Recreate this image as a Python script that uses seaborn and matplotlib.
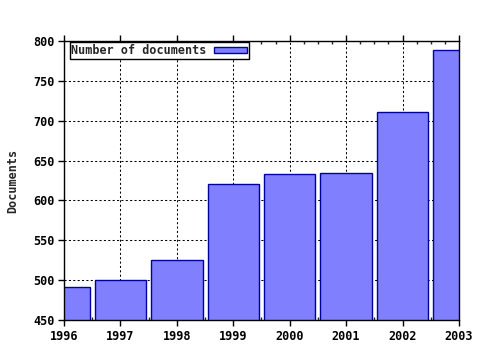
import matplotlib
matplotlib.use("Agg")
import matplotlib.pyplot as plt
import seaborn as sns
import pandas as pd
from matplotlib.ticker import MultipleLocator

years = ["1996", "1997", "1998", "1999", "2000", "2001", "2002", "2003"]
documents = [491, 500, 525, 620, 633, 634, 711, 789]
series_name = "Number of documents"

sns.set_theme(style="white")
plt.rcParams['font.family'] = ['DejaVu Sans Mono', 'DejaVu Sans']
plt.rcParams['font.weight'] = 'bold'

df = pd.DataFrame({"year": years, "docs": documents, "series": series_name})

fig = plt.figure(figsize=(4.8, 3.5), dpi=100)
ax = fig.add_axes([0.1333, 0.0857, 0.8229, 0.7972])

sns.barplot(data=df, x="year", y="docs", hue="series", palette=["#8080ff"],
            width=0.91, saturation=1, edgecolor="#0000a0", linewidth=1,
            ax=ax, zorder=2)

ax.set_xlim(0, 7)
ax.set_ylim(450, 800)
ax.yaxis.set_major_locator(MultipleLocator(50))
ax.xaxis.set_minor_locator(MultipleLocator(0.25))
ax.set_xticks(range(len(years)))
ax.set_xticklabels(years)

ax.grid(True, which="major", color="black", linestyle=(0, (2, 2.2)), linewidth=0.75, zorder=0)
ax.set_axisbelow(True)

for s in ax.spines.values():
    s.set_color("black")
    s.set_linewidth(1)
    s.set_visible(True)

ax.tick_params(axis="both", which="major", labelsize=8.5, colors="black", length=4, width=1,
               direction="out")
ax.tick_params(axis="x", which="major", top=True, bottom=True, direction="out")
ax.tick_params(axis="x", which="minor", top=True, bottom=True, length=2, width=1, direction="in")
ax.tick_params(axis="y", which="major", left=True, right=False, pad=3)
for lab in ax.get_xticklabels() + ax.get_yticklabels():
    lab.set_fontweight("bold")

ax.set_xlabel("")
ax.set_ylabel("Documents", fontsize=8.5, fontweight="bold", labelpad=10)

leg = ax.legend(loc="upper left", bbox_to_anchor=(0.014, 0.995), markerfirst=False,
                frameon=True, fancybox=False, edgecolor="black", framealpha=1,
                prop={"size": 8.5, "weight": "bold"}, handlelength=2.8, handleheight=0.5,
                borderpad=0.15, handletextpad=0.6, borderaxespad=0)
leg.get_frame().set_linewidth(1)

fig.savefig("out.png", dpi=100, facecolor="white")
